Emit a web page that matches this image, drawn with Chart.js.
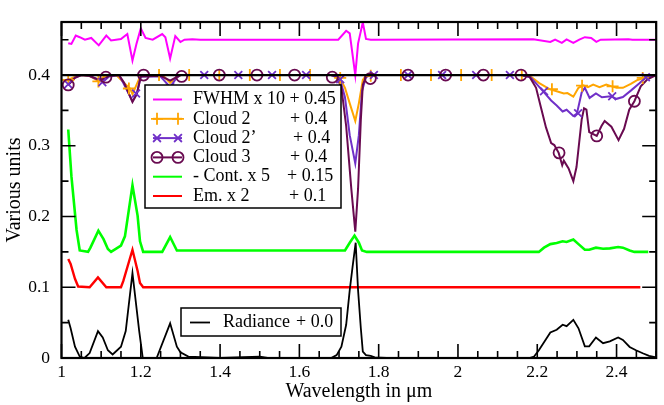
<!DOCTYPE html>
<html>
<head>
<meta charset="utf-8">
<script src="https://cdn.jsdelivr.net/npm/chart.js@4.4.1/dist/chart.umd.min.js"></script>
<style>
  html, body { margin: 0; padding: 0; background: #fff; }
  #c { display: block; }
</style>
</head>
<body>
<canvas id="c" width="664" height="405"></canvas>
<script>
// tick labels
const xTicks = [1, 1.2, 1.4, 1.6, 1.8, 2, 2.2, 2.4];
const yTicks = [0, 0.1, 0.2, 0.3, 0.4];

// Radiance + 0.0
const radX = [1.017, 1.023, 1.034, 1.046, 1.058, 1.071, 1.092, 1.104, 1.117, 1.129, 1.150, 1.162, 1.179, 1.196, 1.205, 1.24, 1.274, 1.291, 1.300, 1.32, 1.40, 1.50, 1.52, 1.68, 1.694, 1.706, 1.718, 1.727, 1.734, 1.742, 1.748, 1.755, 1.760, 1.768, 1.78, 1.79, 1.82, 2.18, 2.192, 2.204, 2.233, 2.249, 2.264, 2.274, 2.291, 2.304, 2.320, 2.331, 2.348, 2.366, 2.383, 2.404, 2.416, 2.433, 2.449, 2.466, 2.482, 2.50];
const radY = [0.054, 0.042, 0.016, 0.002, 0, 0.007, 0.038, 0.029, 0.011, 0.005, 0.016, 0.038, 0.12, 0.038, 0, 0, 0.049, 0.016, 0.008, 0.002, 0, 0.002, 0, 0, 0.004, 0.016, 0.047, 0.096, 0.128, 0.163, 0.096, 0.042, 0.009, 0.004, 0.003, 0.001, 0, 0, 0.002, 0.011, 0.036, 0.040, 0.047, 0.045, 0.054, 0.042, 0.0165, 0.0165, 0.029, 0.021, 0.0236, 0.029, 0.0255, 0.0156, 0.011, 0.0067, 0.003, 0.001];

// Em. x 2 + 0.1
const emX = [1.017, 1.023, 1.034, 1.042, 1.071, 1.092, 1.113, 1.150, 1.156, 1.179, 1.192, 1.198, 1.206, 2.46];
const emY = [0.140, 0.133, 0.112, 0.101, 0.1, 0.114, 0.1, 0.1, 0.109, 0.153, 0.123, 0.106, 0.1, 0.1];

// - Cont. x 5 + 0.15
const contX = [1.017, 1.025, 1.038, 1.046, 1.067, 1.073, 1.093, 1.106, 1.117, 1.125, 1.150, 1.160, 1.179, 1.192, 1.198, 1.206, 1.254, 1.274, 1.291, 1.715, 1.727, 1.739, 1.750, 1.758, 1.77, 2.204, 2.217, 2.233, 2.249, 2.264, 2.274, 2.291, 2.304, 2.320, 2.331, 2.348, 2.366, 2.383, 2.404, 2.416, 2.433, 2.445, 2.48];
const contY = [0.323, 0.257, 0.181, 0.152, 0.15, 0.156, 0.180, 0.168, 0.154, 0.15, 0.159, 0.172, 0.244, 0.201, 0.165, 0.15, 0.15, 0.171, 0.152, 0.152, 0.163, 0.173, 0.163, 0.152, 0.15, 0.15, 0.156, 0.161, 0.1625, 0.165, 0.164, 0.1675, 0.161, 0.153, 0.153, 0.156, 0.1545, 0.155, 0.157, 0.156, 0.152, 0.15, 0.15];

// FWHM x 10 + 0.45
const fwhmX = [1.017, 1.025, 1.036, 1.046, 1.059, 1.075, 1.094, 1.113, 1.125, 1.150, 1.166, 1.179, 1.189, 1.200, 1.212, 1.23, 1.254, 1.262, 1.274, 1.287, 1.300, 1.31, 1.33, 1.35, 1.698, 1.718, 1.727, 1.741, 1.748, 1.760, 1.768, 1.78, 2.19, 2.233, 2.245, 2.262, 2.274, 2.291, 2.306, 2.320, 2.336, 2.349, 2.36, 2.43, 2.44, 2.5];
const fwhmY = [0.445, 0.444, 0.4558, 0.4535, 0.45, 0.4525, 0.442, 0.4558, 0.449, 0.451, 0.458, 0.4205, 0.444, 0.466, 0.4525, 0.45, 0.458, 0.4535, 0.4235, 0.455, 0.4467, 0.45, 0.4505, 0.45, 0.45, 0.4626, 0.459, 0.40, 0.4444, 0.4745, 0.451, 0.45, 0.4505, 0.4467, 0.45, 0.4455, 0.4505, 0.4455, 0.45, 0.4535, 0.4525, 0.447, 0.45, 0.4505, 0.45, 0.45];

// Cloud 2 + 0.4
const c2X = [1.017, 1.034, 1.05, 1.07, 1.096, 1.105, 1.12, 1.14, 1.162, 1.173, 1.179, 1.187, 1.20, 1.255, 1.274, 1.289, 1.30, 1.68, 1.702, 1.715, 1.727, 1.741, 1.750, 1.760, 1.768, 1.78, 2.159, 2.184, 2.205, 2.232, 2.247, 2.267, 2.276, 2.291, 2.304, 2.316, 2.328, 2.341, 2.357, 2.374, 2.386, 2.40, 2.416, 2.436, 2.453, 2.47, 2.482, 2.5];
const c2Y = [0.393, 0.3976, 0.4, 0.3987, 0.391, 0.397, 0.4, 0.399, 0.3865, 0.381, 0.373, 0.3834, 0.4, 0.4, 0.389, 0.396, 0.4, 0.4, 0.396, 0.382, 0.36, 0.335, 0.36, 0.393, 0.399, 0.4, 0.4, 0.3976, 0.3887, 0.3798, 0.3775, 0.374, 0.3745, 0.3694, 0.382, 0.3855, 0.383, 0.3865, 0.383, 0.3865, 0.3843, 0.382, 0.382, 0.3874, 0.393, 0.396, 0.399, 0.4];
const c2MarkX = [1.017, 1.093, 1.170, 1.246, 1.322, 1.398, 1.475, 1.551, 1.627, 1.703, 1.780, 1.856, 1.932, 2.008, 2.085, 2.161, 2.237, 2.313, 2.390, 2.466];
const c2MarkY = [0.393, 0.391, 0.381, 0.4, 0.4, 0.4, 0.4, 0.4, 0.4, 0.396, 0.399, 0.4, 0.4, 0.4, 0.4, 0.4, 0.380, 0.385, 0.384, 0.396];

// Cloud 2' + 0.4
const c2pX = [1.017, 1.034, 1.05, 1.07, 1.096, 1.104, 1.12, 1.145, 1.156, 1.179, 1.19, 1.20, 1.25, 1.274, 1.29, 1.30, 1.68, 1.702, 1.715, 1.727, 1.741, 1.750, 1.758, 1.768, 1.78, 2.159, 2.184, 2.215, 2.235, 2.249, 2.264, 2.274, 2.291, 2.30, 2.312, 2.320, 2.332, 2.348, 2.363, 2.386, 2.40, 2.416, 2.436, 2.457, 2.474, 2.5];
const c2pY = [0.3866, 0.3965, 0.4, 0.399, 0.392, 0.390, 0.398, 0.4, 0.3887, 0.363, 0.374, 0.398, 0.398, 0.383, 0.396, 0.4, 0.4, 0.395, 0.3686, 0.315, 0.275, 0.315, 0.3775, 0.397, 0.4, 0.4, 0.3965, 0.377, 0.364, 0.357, 0.3485, 0.351, 0.342, 0.3455, 0.3753, 0.382, 0.3677, 0.374, 0.3685, 0.37, 0.3664, 0.369, 0.378, 0.388, 0.3965, 0.4];
const c2pMarkX = [1.017, 1.103, 1.188, 1.274, 1.360, 1.446, 1.531, 1.617, 1.703, 1.788, 1.874, 1.960, 2.046, 2.131, 2.217, 2.303, 2.389, 2.474];
const c2pMarkY = [0.387, 0.390, 0.374, 0.383, 0.4, 0.4, 0.4, 0.4, 0.394, 0.4, 0.4, 0.4, 0.4, 0.4, 0.377, 0.346, 0.370, 0.397];

// Cloud 3 + 0.4
const c3X = [1.017, 1.034, 1.05, 1.07, 1.096, 1.11, 1.12, 1.145, 1.158, 1.179, 1.19, 1.20, 1.25, 1.274, 1.29, 1.30, 1.68, 1.694, 1.706, 1.718, 1.731, 1.741, 1.748, 1.755, 1.760, 1.768, 1.78, 2.159, 2.18, 2.197, 2.209, 2.222, 2.235, 2.243, 2.254, 2.263, 2.267, 2.279, 2.291, 2.299, 2.312, 2.318, 2.324, 2.331, 2.350, 2.362, 2.370, 2.387, 2.405, 2.419, 2.432, 2.445, 2.461, 2.478, 2.5];
const c3Y = [0.386, 0.396, 0.4, 0.399, 0.393, 0.395, 0.399, 0.4, 0.389, 0.362, 0.373, 0.398, 0.399, 0.392, 0.397, 0.4, 0.4, 0.399, 0.382, 0.328, 0.239, 0.1787, 0.239, 0.337, 0.386, 0.398, 0.4, 0.4, 0.398, 0.382, 0.355, 0.326, 0.3037, 0.301, 0.290, 0.2725, 0.279, 0.268, 0.250, 0.270, 0.337, 0.353, 0.351, 0.3194, 0.314, 0.328, 0.335, 0.327, 0.308, 0.324, 0.351, 0.363, 0.384, 0.394, 0.4];
const c3MarkX = [1.017, 1.112, 1.207, 1.303, 1.398, 1.493, 1.588, 1.683, 1.779, 1.874, 1.969, 2.064, 2.159, 2.255, 2.350, 2.445];
const c3MarkY = [0.386, 0.397, 0.4, 0.398, 0.4, 0.4, 0.4, 0.397, 0.395, 0.4, 0.4, 0.4, 0.4, 0.290, 0.314, 0.363];

// reference line at 0.4
const refX = [1, 2.5];
const refY = [0.4, 0.4];

const SERIF = "'Liberation Serif', 'Times New Roman', serif";
const MAGENTA = '#ff00ff', ORANGE = '#ffa500', PURPLE = '#7030c8', MAROON = '#690a50', GREEN = '#00ff00', RED = '#ff0000';

function pts(xs, ys) {
  return xs.map((x, i) => ({ x: x, y: ys[i] }));
}

function lineSet(xs, ys, color, width) {
  return { data: pts(xs, ys), borderColor: color, borderWidth: width, pointRadius: 0, tension: 0, fill: false };
}

function markSet(xs, ys, color, style, r) {
  return {
    data: pts(xs, ys), showLine: false, pointStyle: style, pointRadius: r,
    pointBorderColor: color, pointBackgroundColor: 'rgba(0,0,0,0)', pointBorderWidth: 1.8
  };
}

function drawMark(ctx, style, x, y, r) {
  ctx.beginPath();
  if (style === 'cross') {
    ctx.moveTo(x - r, y); ctx.lineTo(x + r, y);
    ctx.moveTo(x, y - r); ctx.lineTo(x, y + r);
  } else if (style === 'crossRot') {
    const d = r * Math.SQRT1_2;
    ctx.moveTo(x - d, y - d); ctx.lineTo(x + d, y + d);
    ctx.moveTo(x - d, y + d); ctx.lineTo(x + d, y - d);
  } else if (style === 'circle') {
    ctx.arc(x, y, r, 0, Math.PI * 2);
  }
  ctx.stroke();
}

const decor = {
  id: 'decor',
  afterDatasetsDraw(chart) {
    const { ctx, chartArea: a, scales: { x, y } } = chart;
    ctx.save();
    // inward ticks on all four sides
    ctx.strokeStyle = '#000';
    ctx.lineWidth = 1.6;
    ctx.beginPath();
    for (let i = 0; i <= 30; i++) {
      const px = x.getPixelForValue(1 + i * 0.05);
      const len = i % 4 === 0 ? 14 : 7;
      ctx.moveTo(px, a.bottom); ctx.lineTo(px, a.bottom - len);
      ctx.moveTo(px, a.top); ctx.lineTo(px, a.top + len);
    }
    for (let i = 0; i <= 9; i++) {
      const py = y.getPixelForValue(i * 0.05);
      const len = i % 2 === 0 ? 14 : 7;
      ctx.moveTo(a.left, py); ctx.lineTo(a.left + len, py);
      ctx.moveTo(a.right, py); ctx.lineTo(a.right - len, py);
    }
    ctx.stroke();
    ctx.lineWidth = 2.2;
    ctx.strokeRect(a.left, a.top, a.right - a.left, a.bottom - a.top);

    // legend box
    ctx.fillStyle = '#fff';
    ctx.lineWidth = 1.5;
    ctx.fillRect(145, 85, 196, 123);
    ctx.strokeRect(145, 85, 196, 123);
    const rows = [
      { c: MAGENTA, m: null, t: 'FWHM x 10 + 0.45', o: '', ox: 0 },
      { c: ORANGE, m: 'cross', r: 6, t: 'Cloud 2', o: '+ 0.4', ox: 290 },
      { c: PURPLE, m: 'crossRot', r: 5.5, t: 'Cloud 2\u2019', o: '+ 0.4', ox: 293 },
      { c: MAROON, m: 'circle', r: 5.5, t: 'Cloud 3', o: '+ 0.4', ox: 290 },
      { c: GREEN, m: null, t: '- Cont. x 5', o: '+ 0.15', ox: 287 },
      { c: RED, m: null, t: 'Em. x 2', o: '+ 0.1', ox: 289 }
    ];
    ctx.font = '18px ' + SERIF;
    ctx.textBaseline = 'middle';
    ctx.textAlign = 'left';
    rows.forEach((row, i) => {
      const ry = 99.5 + i * 19.3;
      ctx.strokeStyle = row.c;
      ctx.lineWidth = 2;
      ctx.beginPath();
      ctx.moveTo(153, ry); ctx.lineTo(182, ry);
      ctx.stroke();
      if (row.m) {
        ctx.lineWidth = 1.8;
        drawMark(ctx, row.m, 157, ry, row.r);
        drawMark(ctx, row.m, 178, ry, row.r);
      }
      ctx.fillStyle = '#000';
      ctx.fillText(row.t, 193, ry);
      if (row.o) ctx.fillText(row.o, row.ox, ry);
    });

    // radiance legend box
    ctx.fillStyle = '#fff';
    ctx.strokeStyle = '#000';
    ctx.lineWidth = 1.5;
    ctx.fillRect(181, 308, 160, 28);
    ctx.strokeRect(181, 308, 160, 28);
    ctx.lineWidth = 1.8;
    ctx.beginPath();
    ctx.moveTo(190, 322.5); ctx.lineTo(210, 322.5);
    ctx.stroke();
    ctx.fillStyle = '#000';
    ctx.fillText('Radiance', 223, 322.5);
    ctx.fillText('+ 0.0', 296, 322.5);
    ctx.restore();
  }
};

const fmt = v => Math.abs(v - Math.round(v)) < 1e-9 ? String(Math.round(v)) : v.toFixed(1);

new Chart(document.getElementById('c'), {
  type: 'line',
  data: {
    datasets: [
      lineSet(refX, refY, '#000', 2.2),
      markSet(c3MarkX, c3MarkY, MAROON, 'circle', 5.5),
      markSet(c2pMarkX, c2pMarkY, PURPLE, 'crossRot', 5.5),
      markSet(c2MarkX, c2MarkY, ORANGE, 'cross', 6),
      lineSet(c3X, c3Y, MAROON, 2),
      lineSet(c2pX, c2pY, PURPLE, 2),
      lineSet(c2X, c2Y, ORANGE, 2),
      lineSet(fwhmX, fwhmY, MAGENTA, 2),
      lineSet(radX, radY, '#000', 1.8),
      lineSet(emX, emY, RED, 2.4),
      lineSet(contX, contY, GREEN, 2.6)
    ]
  },
  options: {
    responsive: false,
    animation: false,
    layout: { padding: { top: 4, right: 1.3, left: 0, bottom: 0 } },
    plugins: { legend: { display: false }, tooltip: { enabled: false } },
    scales: {
      x: {
        type: 'linear', min: 1, max: 2.5,
        grid: { display: false, drawTicks: false },
        border: { display: false },
        afterBuildTicks: s => { s.ticks = xTicks.map(v => ({ value: v })); },
        afterFit: s => { s.height = 47; },
        ticks: { callback: fmt, padding: 4, color: '#000', maxRotation: 0, autoSkip: false, font: { family: SERIF, size: 17.5 } },
        title: { display: true, text: 'Wavelength in \u03bcm', color: '#000', font: { family: SERIF, size: 20 }, padding: { top: 0, bottom: 1 } }
      },
      y: {
        type: 'linear', min: 0, max: 0.475,
        grid: { display: false, drawTicks: false },
        border: { display: false },
        afterBuildTicks: s => { s.ticks = yTicks.map(v => ({ value: v })); },
        afterFit: s => { s.width = 61.5; },
        ticks: { callback: fmt, padding: 11.5, color: '#000', autoSkip: false, font: { family: SERIF, size: 17.5 } },
        title: { display: true, text: 'Various units', color: '#000', font: { family: SERIF, size: 20 }, padding: { top: 3, bottom: 0 } }
      }
    }
  },
  plugins: [decor]
});
</script>
</body>
</html>
